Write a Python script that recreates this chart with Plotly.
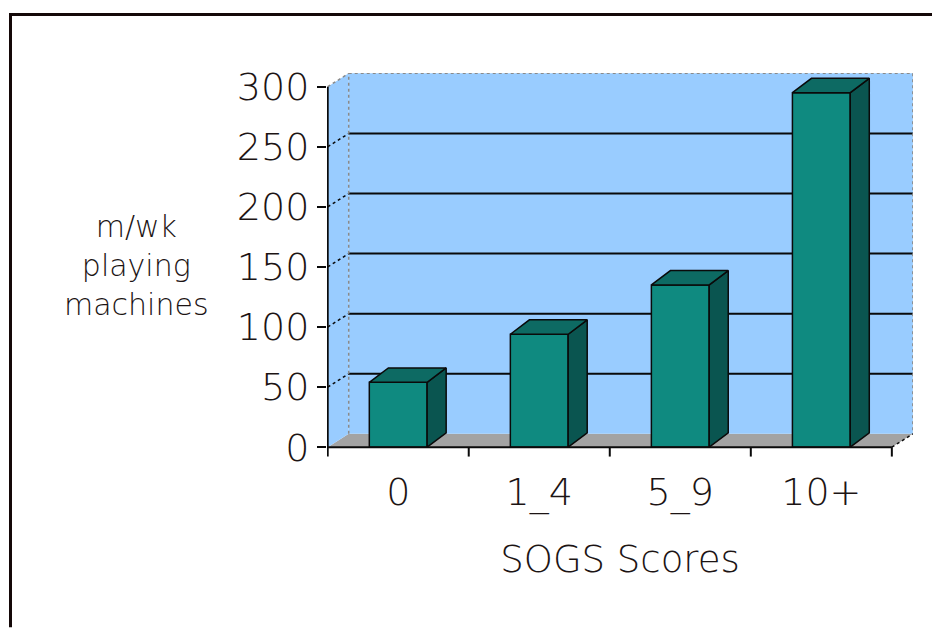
import plotly.graph_objects as go

# ---------------- data ----------------
categories = ["0", "1_4", "5_9", "10+"]
values = [54, 94, 135, 295]
y_tick_values = [0, 50, 100, 150, 200, 250, 300]
y_tick_text = ["0", "50", "100", "150", "200", "250", "300"]
y_title_lines = ["m/wk", "playing", "machines"]
x_title = "SOGS Scores"

# ---------------- geometry / style ----------------
OFF = 8  # page body margin
W, H = 941 - 2 * OFF, 637 - 2 * OFF
PLOT_L, PLOT_R, PLOT_T, PLOT_B = 327 - OFF, 913 - OFF, 73 - OFF, 458.5 - OFF
X_MIN, X_MAX = -0.505, 3.65
Y_MIN, Y_MAX = -9, 311.4

WALL_DX, WALL_DY = 0.149, 11.1   # depth of walls (data units)
BAR_DX, BAR_DY = 0.135, 12.0     # depth of bars (data units)
BAR_W = 0.41
TICK_DOWN = 7.8

WALL_BLUE = "#99CCFF"
FLOOR_GRAY = "#A3A3A3"
FRONT = "#0F8A80"
SIDE = "#0A5550"
TOP = "#0D6A63"
EDGE = "#0a0a0a"
TEXT = "#1c1414"
FONT = "DejaVu Sans"

x_lo = -0.5
x_hi = len(categories) - 0.5
y_top = y_tick_values[-1]


def px_to_paper_x(px):
    return (px - OFF - PLOT_L) / (PLOT_R - PLOT_L)


def px_to_paper_y(py):
    return (PLOT_B - (py - OFF)) / (PLOT_B - PLOT_T)


def path(points, close=True):
    s = "M " + " L ".join(f"{x},{y}" for x, y in points)
    return s + " Z" if close else s


fig = go.Figure()

shapes = []
# floor
shapes.append(dict(type="path", xref="x", yref="y", layer="below",
                   path=path([(x_lo, 0), (x_hi, 0), (x_hi + WALL_DX, WALL_DY), (x_lo + WALL_DX, WALL_DY)]),
                   fillcolor=FLOOR_GRAY, line=dict(width=0)))
# left wall
shapes.append(dict(type="path", xref="x", yref="y", layer="below",
                   path=path([(x_lo, 0), (x_lo, y_top), (x_lo + WALL_DX, y_top + WALL_DY), (x_lo + WALL_DX, WALL_DY)]),
                   fillcolor=WALL_BLUE, line=dict(width=0)))
# back wall
shapes.append(dict(type="rect", xref="x", yref="y", layer="below",
                   x0=x_lo + WALL_DX, x1=x_hi + WALL_DX, y0=WALL_DY, y1=y_top + WALL_DY,
                   fillcolor=WALL_BLUE, line=dict(width=0)))
# gridlines (back wall solid, left wall dashed diagonal)
for v in y_tick_values[1:-1]:
    shapes.append(dict(type="line", xref="x", yref="y", layer="below",
                       x0=x_lo + WALL_DX, x1=x_hi + WALL_DX, y0=v + WALL_DY, y1=v + WALL_DY,
                       line=dict(color=EDGE, width=2)))
    shapes.append(dict(type="line", xref="x", yref="y", layer="below",
                       x0=x_lo, x1=x_lo + WALL_DX, y0=v, y1=v + WALL_DY,
                       line=dict(color=EDGE, width=1.5, dash="dot")))
# wall borders (dotted gray)
border_pts = [
    ((x_lo + WALL_DX, WALL_DY), (x_lo + WALL_DX, y_top + WALL_DY)),
    ((x_lo + WALL_DX, y_top + WALL_DY), (x_hi + WALL_DX, y_top + WALL_DY)),
    ((x_hi + WALL_DX, y_top + WALL_DY), (x_hi + WALL_DX, WALL_DY)),
    ((x_lo, y_top), (x_lo + WALL_DX, y_top + WALL_DY)),
]
for (a, b) in border_pts:
    shapes.append(dict(type="line", xref="x", yref="y", layer="below",
                       x0=a[0], y0=a[1], x1=b[0], y1=b[1],
                       line=dict(color="#8a8a8a", width=1.5, dash="dot")))
# floor right edge
shapes.append(dict(type="line", xref="x", yref="y", layer="below",
                   x0=x_hi, y0=0, x1=x_hi + WALL_DX, y1=WALL_DY,
                   line=dict(color=EDGE, width=1.5, dash="dot")))

# axes (above)
shapes.append(dict(type="line", xref="x", yref="y", layer="above",
                   x0=x_lo, x1=x_lo, y0=-TICK_DOWN, y1=y_top, line=dict(color=EDGE, width=2)))
shapes.append(dict(type="line", xref="x", yref="y", layer="above",
                   x0=x_lo, x1=x_hi, y0=0, y1=0, line=dict(color=EDGE, width=2)))
for i in range(len(categories)):
    xb = i + 0.5
    shapes.append(dict(type="line", xref="x", yref="y", layer="above",
                       x0=xb, x1=xb, y0=0, y1=-TICK_DOWN, line=dict(color=EDGE, width=2)))

# outer frame: open path along the left and top edges, kept inside the figure
frame_x, frame_y = px_to_paper_x(10.5), px_to_paper_y(14.5)
shapes.append(dict(type="path", xref="paper", yref="paper", layer="above",
                   path=path([(frame_x, px_to_paper_y(H + OFF - 1)), (frame_x, frame_y),
                              (px_to_paper_x(W + OFF - 1), frame_y)], close=False),
                   line=dict(color="#140808", width=3), fillcolor="rgba(0,0,0,0)"))

# bar side and top faces
for i, v in enumerate(values):
    xl, xr = i - BAR_W / 2, i + BAR_W / 2
    side = [(xr, 0), (xr + BAR_DX, BAR_DY), (xr + BAR_DX, v + BAR_DY), (xr, v), (xr, 0)]
    top = [(xl, v), (xl + BAR_DX, v + BAR_DY), (xr + BAR_DX, v + BAR_DY), (xr, v), (xl, v)]
    for pts, col in ((side, SIDE), (top, TOP)):
        fig.add_trace(go.Scatter(x=[p[0] for p in pts], y=[p[1] for p in pts],
                                 mode="lines", fill="toself", fillcolor=col,
                                 line=dict(color=EDGE, width=1.5),
                                 hoverinfo="skip", showlegend=False))

# bar front faces
fig.add_trace(go.Bar(x=list(range(len(categories))), y=values, width=BAR_W,
                     marker=dict(color=FRONT, line=dict(color=EDGE, width=1.5)),
                     showlegend=False))

# y title
fig.add_annotation(text="<br>".join(y_title_lines), xref="paper", yref="paper",
                   x=px_to_paper_x(136), y=px_to_paper_y(266),
                   xanchor="center", yanchor="middle", showarrow=False, align="center",
                   font=dict(family=FONT, size=30, color=TEXT, weight=300))

fig.update_layout(
    width=W, height=H,
    margin=dict(l=PLOT_L, r=W - PLOT_R, t=PLOT_T, b=H - PLOT_B, pad=0),
    paper_bgcolor="white", plot_bgcolor="white",
    showlegend=False,
    shapes=shapes,
    xaxis=dict(range=[X_MIN, X_MAX], tickvals=list(range(len(categories))), ticktext=categories,
               ticks="", showgrid=False, zeroline=False, showline=False,
               ticklabelstandoff=8,
               tickfont=dict(family=FONT, size=38, color=TEXT, weight=300),
               title=dict(text=x_title, font=dict(family=FONT, size=37, color=TEXT, weight=300),
                          standoff=32)),
    yaxis=dict(range=[Y_MIN, Y_MAX], tickvals=y_tick_values, ticktext=y_tick_text,
               ticks="outside", ticklen=9, tickwidth=2, tickcolor=EDGE,
               showgrid=False, zeroline=False, showline=False,
               tickfont=dict(family=FONT, size=38, color=TEXT, weight=300)),
)

fig.write_html("out.html")
